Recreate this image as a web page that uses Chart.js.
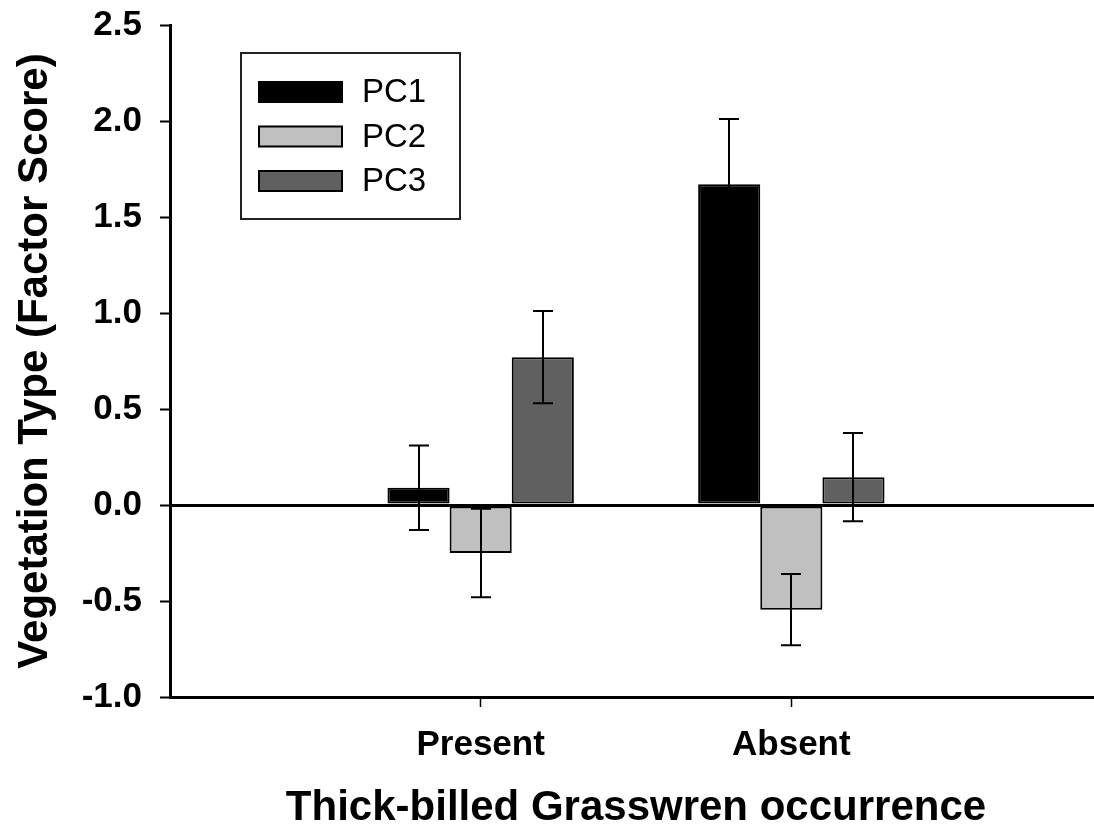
<!DOCTYPE html>
<html>
<head>
<meta charset="utf-8">
<title>Vegetation Type by Thick-billed Grasswren occurrence</title>
<script src="https://cdn.jsdelivr.net/npm/chart.js@4/dist/chart.umd.min.js"></script>
<style>
    html, body { margin: 0; padding: 0; background: #fff; overflow: hidden; }
    #wrap { width: 1102px; height: 834px; }
</style>
</head>
<body>
<div id="wrap"><canvas id="chart" width="1102" height="834"></canvas></div>
<script>
// Categories (blank slots at both ends keep the plot's spacing)
const categories = ['', 'Present', 'Absent', ''];

// Mean factor scores
const pc1 = [null, 0.09, 1.67, null];
const pc2 = [null, -0.25, -0.545, null];
const pc3 = [null, 0.77, 0.145, null];

// Error bar half-widths
const pc1Err = [null, 0.22, 0.34, null];
const pc2Err = [null, 0.23, 0.185, null];
const pc3Err = [null, 0.24, 0.23, null];

const seriesNames = ['PC1', 'PC2', 'PC3'];
const yTicks = [-1.0, -0.5, 0.0, 0.5, 1.0, 1.5, 2.0, 2.5];

const FONT = '"Liberation Sans", Arial, Helvetica, sans-serif';

// Error bars drawn from each bar element and the y scale
const errorBars = {
    id: 'errorBars',
    afterDatasetsDraw(chart) {
        const ctx = chart.ctx;
        const y = chart.scales.y;
        ctx.save();
        ctx.strokeStyle = '#000';
        ctx.lineWidth = 2;
        chart.data.datasets.forEach((ds, i) => {
            const meta = chart.getDatasetMeta(i);
            meta.data.forEach((bar, j) => {
                const v = ds.data[j];
                const e = ds.errors[j];
                if (v == null || e == null) return;
                const top = y.getPixelForValue(v + e);
                const bottom = y.getPixelForValue(v - e);
                const x = Math.round(bar.x);
                ctx.beginPath();
                ctx.moveTo(x, top);
                ctx.lineTo(x, bottom);
                ctx.moveTo(x - 10, top);
                ctx.lineTo(x + 10, top);
                ctx.moveTo(x - 10, bottom);
                ctx.lineTo(x + 10, bottom);
                ctx.stroke();
            });
        });
        ctx.restore();
    }
};

// Boxed legend inside the plot, upper left
const boxLegend = {
    id: 'boxLegend',
    afterDraw(chart) {
        const ctx = chart.ctx;
        ctx.save();
        ctx.strokeStyle = '#222';
        ctx.lineWidth = 2;
        ctx.strokeRect(241, 53, 219, 166);
        chart.data.datasets.forEach((ds, i) => {
            const cy = 92 + i * 44.5;
            ctx.fillStyle = ds.backgroundColor;
            ctx.fillRect(259, cy - 10, 83, 20);
            ctx.strokeStyle = '#000';
            ctx.strokeRect(259, cy - 10, 83, 20);
            ctx.fillStyle = '#000';
            ctx.font = '33px ' + FONT;
            ctx.textBaseline = 'middle';
            ctx.textAlign = 'left';
            ctx.fillText(ds.label, 362, cy + 1);
        });
        ctx.restore();
    }
};

const ctx = document.getElementById('chart').getContext('2d');
new Chart(ctx, {
    type: 'bar',
    data: {
        labels: categories,
        datasets: [
            { label: seriesNames[0], data: pc1, errors: pc1Err, backgroundColor: '#000000' },
            { label: seriesNames[1], data: pc2, errors: pc2Err, backgroundColor: '#c0c0c0' },
            { label: seriesNames[2], data: pc3, errors: pc3Err, backgroundColor: '#606060' }
        ]
    },
    options: {
        responsive: false,
        animation: false,
        devicePixelRatio: 1,
        layout: { padding: { top: 25, left: 0, right: 0, bottom: 0 } },
        datasets: {
            bar: {
                borderColor: '#000',
                borderWidth: 2,
                borderSkipped: false,
                categoryPercentage: 0.6,
                barPercentage: 1.0
            }
        },
        plugins: {
            legend: { display: false },
            tooltip: { enabled: false }
        },
        scales: {
            x: {
                offset: false,
                border: { color: '#000', width: 3 },
                grid: {
                    offset: false,
                    drawOnChartArea: false,
                    tickLength: 10,
                    tickWidth: 1.5,
                    tickColor: c => (c.tick && c.tick.label) ? '#000' : 'rgba(0,0,0,0)'
                },
                ticks: {
                    color: '#000',
                    padding: 0,
                    maxRotation: 0,
                    autoSkip: false,
                    font: { family: FONT, size: 35, weight: 'bold', lineHeight: 2.2 }
                },
                title: {
                    display: true,
                    text: 'Thick-billed Grasswren occurrence',
                    color: '#000',
                    padding: { top: 0, bottom: 0 },
                    font: { family: FONT, size: 42, weight: 'bold' }
                },
                afterFit(scale) { scale.height = 137; }
            },
            y: {
                min: -1.0,
                max: 2.5,
                afterBuildTicks(scale) { scale.ticks = yTicks.map(v => ({ value: v })); },
                border: { color: '#000', width: 3 },
                grid: {
                    color: c => (c.tick && c.tick.value === 0) ? '#000' : 'rgba(0,0,0,0)',
                    lineWidth: c => (c.tick && c.tick.value === 0) ? 3 : 1,
                    tickLength: 10,
                    tickWidth: 2,
                    tickColor: '#000'
                },
                ticks: {
                    color: '#000',
                    padding: 18,
                    font: { family: FONT, size: 35, weight: 'bold', lineHeight: 0.3 },
                    callback: v => Number(v).toFixed(1)
                },
                title: {
                    display: true,
                    text: 'Vegetation Type (Factor Score)',
                    color: '#000',
                    padding: { top: 10, bottom: 0 },
                    font: { family: FONT, size: 42, weight: 'bold' }
                },
                afterFit(scale) { scale.width = 170; }
            }
        }
    },
    plugins: [errorBars, boxLegend]
});
</script>
</body>
</html>
